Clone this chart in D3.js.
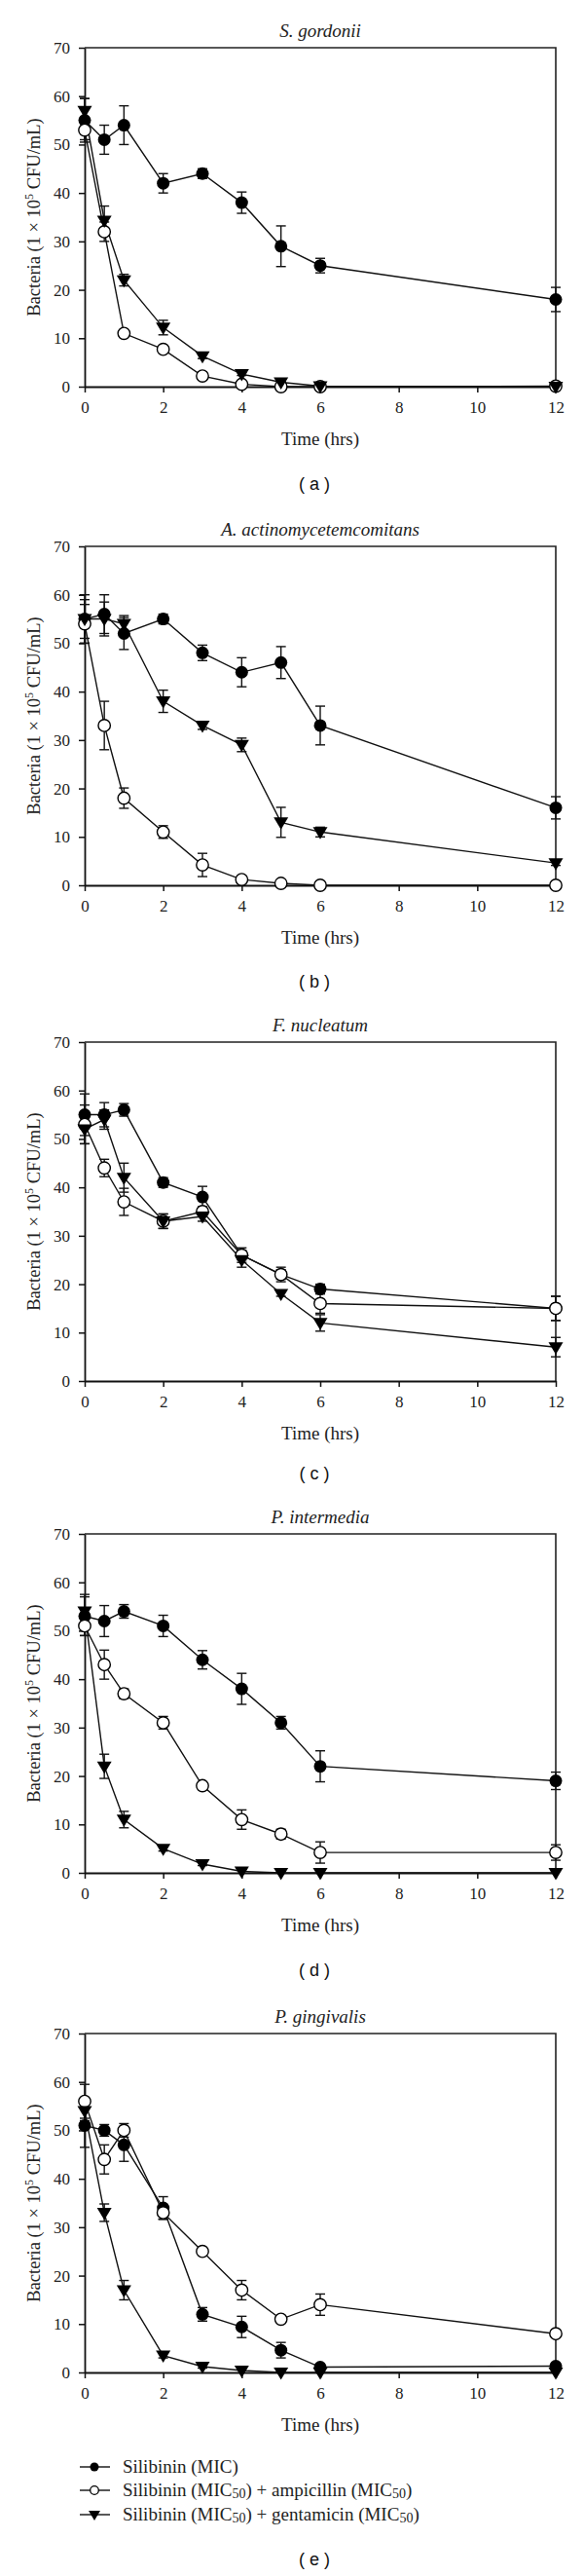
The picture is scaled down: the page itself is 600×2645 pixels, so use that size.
<!DOCTYPE html>
<html>
<head>
<meta charset="utf-8">
<script src="https://cdn.jsdelivr.net/npm/d3@7"></script>
<style>
  html, body { margin: 0; padding: 0; background: #fff; }
  svg { display: block; }
</style>
</head>
<body>
<div id="chart"></div>
<script>
// ---------------- DATA ----------------
const times = [0, 0.5, 1, 2, 3, 4, 5, 6, 12];
const panelTitles = ["S. gordonii", "A. actinomycetemcomitans", "F. nucleatum", "P. intermedia", "P. gingivalis"];
const panelLetters = ["a", "b", "c", "d", "e"];
const xTicks = [0, 2, 4, 6, 8, 10, 12];
const yTicks = [0, 10, 20, 30, 40, 50, 60, 70];

// Silibinin (MIC) — filled circles
const micValues = [
  [55, 51, 54, 42, 44, 38, 29, 25, 18],
  [55, 56, 52, 55, 48, 44, 46, 33, 16],
  [55, 55, 56, 41, 38, 26, 22, 19, 15],
  [53, 52, 54, 51, 44, 38, 31, 22, 19],
  [51, 50, 47, 34, 12, 9.4, 4.6, 1.1, 1.3]
];
const micErrors = [
  [4.5, 3, 4, 2, 1, 2.2, 4.2, 1.5, 2.5],
  [5, 4, 3.3, 1, 1.6, 3, 3.3, 4, 2.3],
  [4.3, 2.5, 1.3, 1, 2.2, 1, 1, 1, 2.5],
  [4, 3.2, 1.4, 2.2, 1.9, 3.2, 1.3, 3.2, 1.8],
  [4.5, 1.2, 3.4, 2.3, 1.4, 2.2, 1.6, 0.5, 0.5]
];
// Silibinin (MIC50) + ampicillin (MIC50) — open circles
const ampValues = [
  [53, 32, 11, 7.7, 2.2, 0.5, 0, 0, 0.1],
  [54, 33, 18, 11, 4.2, 1.2, 0.4, 0, 0],
  [53, 44, 37, 33, 35, 26, 22, 16, 15],
  [51, 43, 37, 31, 18, 11, 8, 4.2, 4.2],
  [56, 44, 50, 33, 25, 17, 11, 14, 8]
];
const ampErrors = [
  [2, 2, 0.5, 0.5, 0.3, 0.2, 0, 0, 0],
  [4, 5, 2.1, 1.3, 2.4, 0.5, 0.2, 0, 0],
  [4, 1.8, 2.8, 1.5, 1, 1.5, 1.5, 2, 2.5],
  [2, 3, 1, 1.3, 0.5, 2, 1, 2.2, 1.6],
  [3.5, 3, 1.4, 1.4, 0.5, 2, 0.5, 2.2, 0.5]
];
// Silibinin (MIC50) + gentamicin (MIC50) — filled down-triangles
const gentValues = [
  [57, 34.3, 22, 12.2, 6.3, 2.6, 0.9, 0.1, 0],
  [55, 55, 54, 38, 33, 29, 13, 11, 4.6],
  [52, 54, 42, 33, 34, 25, 18, 12, 7],
  [54, 22, 11, 5, 1.8, 0.3, 0, 0, 0],
  [54, 33, 17, 3.5, 1.2, 0.4, 0, 0, 0]
];
const gentErrors = [
  [2.5, 3, 1.2, 1.5, 0.5, 0.3, 0.2, 0, 0],
  [4, 3.5, 1.7, 2.3, 0.8, 1.4, 3.1, 1, 0.5],
  [3, 2, 3, 1.5, 1, 1.5, 0.5, 1.7, 2],
  [3.5, 2.5, 1.7, 0.5, 0.3, 0, 0, 0, 0],
  [2, 1.8, 2, 0.5, 0.3, 0, 0, 0, 0]
];

// ---------------- LAYOUT ----------------
const W = 600, H = 2645;
const left = 87, right = 571;
const panelTops = [49, 561, 1070, 1575, 2088];
const plotH = 348;
const letterY = [497, 1008, 1513, 2023, 2628];
const serif = "'Liberation Serif', 'Times New Roman', serif";
const sans = "'Liberation Sans', Arial, sans-serif";

const svg = d3.select("#chart").append("svg")
  .attr("width", W).attr("height", H)
  .attr("viewBox", `0 0 ${W} ${H}`);
svg.append("rect").attr("width", W).attr("height", H).attr("fill", "#fff");

const x = d3.scaleLinear().domain([0, 12]).range([left, right]);

const series = [
  { vals: micValues, errs: micErrors, type: "filled" },
  { vals: ampValues, errs: ampErrors, type: "open" },
  { vals: gentValues, errs: gentErrors, type: "tri" }
];

const triPath = (cx, cy) => {
  const w = 7.5, h = 12.5;
  return `M${cx - w},${cy - h * 0.4}L${cx + w},${cy - h * 0.4}L${cx},${cy + h * 0.6}Z`;
};

function drawMarker(g, type, cx, cy) {
  if (type === "filled") {
    g.append("circle").attr("cx", cx).attr("cy", cy).attr("r", 6.5).attr("fill", "#000");
  } else if (type === "open") {
    g.append("circle").attr("cx", cx).attr("cy", cy).attr("r", 6.2)
      .attr("fill", "#fff").attr("stroke", "#000").attr("stroke-width", 1.4);
  } else {
    g.append("path").attr("d", triPath(cx, cy)).attr("fill", "#000");
  }
}

panelTitles.forEach((title, p) => {
  const top = panelTops[p];
  const bottom = top + plotH;
  const y = d3.scaleLinear().domain([0, 70]).range([bottom, top]);
  const g = svg.append("g");

  // frame (top & right)
  g.append("path")
    .attr("d", `M${left},${top}H${right}V${bottom}`)
    .attr("fill", "none").attr("stroke", "#222").attr("stroke-width", 1.6);

  // axes
  const xAxis = d3.axisBottom(x).tickValues(xTicks).tickSize(6).tickPadding(9).tickSizeOuter(0);
  const yAxis = d3.axisLeft(y).tickValues(yTicks).tickSize(6).tickPadding(9).tickSizeOuter(0);
  const gx = g.append("g").attr("transform", `translate(0,${bottom})`).call(xAxis);
  const gy = g.append("g").attr("transform", `translate(${left},0)`).call(yAxis);
  [gx, gy].forEach(a => {
    a.select(".domain").attr("stroke", "#111").attr("stroke-width", 1.8);
    a.selectAll(".tick line").attr("stroke", "#111").attr("stroke-width", 1.5);
    a.selectAll(".tick text").attr("font-family", serif).attr("font-size", 17).attr("fill", "#222");
  });

  // title
  g.append("text").attr("x", (left + right) / 2).attr("y", top - 11)
    .attr("text-anchor", "middle").attr("font-family", serif).attr("font-style", "italic")
    .attr("font-size", 19).attr("fill", "#222").text(title);

  // x label
  g.append("text").attr("x", (left + right) / 2).attr("y", bottom + 60)
    .attr("text-anchor", "middle").attr("font-family", serif)
    .attr("font-size", 19).attr("fill", "#222").text("Time (hrs)");

  // y label
  const yl = g.append("text")
    .attr("transform", `translate(41,${(top + bottom) / 2}) rotate(-90)`)
    .attr("text-anchor", "middle").attr("font-family", serif)
    .attr("font-size", 18.5).attr("fill", "#222");
  yl.append("tspan").text("Bacteria (1 × 10");
  yl.append("tspan").attr("font-size", 12).attr("dy", -7).text("5");
  yl.append("tspan").attr("dy", 7).text(" CFU/mL)");

  // panel letter
  svg.append("text").attr("x", 323).attr("y", letterY[p]).attr("dy", "0.35em")
    .attr("text-anchor", "middle").attr("font-family", sans)
    .attr("font-size", 18).attr("fill", "#111").text(`( ${panelLetters[p]} )`);

  const line = d3.line().x(d => x(d[0])).y(d => y(d[1]));

  // lines
  series.forEach(s => {
    const pts = times.map((t, i) => [t, s.vals[p][i]]);
    g.append("path").attr("d", line(pts)).attr("fill", "none")
      .attr("stroke", "#111").attr("stroke-width", 1.4);
  });
  // error bars
  series.forEach(s => {
    times.forEach((t, i) => {
      const v = s.vals[p][i], e = s.errs[p][i];
      if (!e) return;
      const cx = x(t), y1 = y(v + e), y2 = y(Math.max(0, v - e));
      g.append("line").attr("x1", cx).attr("x2", cx).attr("y1", y1).attr("y2", y2)
        .attr("stroke", "#111").attr("stroke-width", 1.4);
      [y1, y2].forEach(yy => {
        g.append("line").attr("x1", cx - 5).attr("x2", cx + 5).attr("y1", yy).attr("y2", yy)
          .attr("stroke", "#111").attr("stroke-width", 1.4);
      });
    });
  });
  // markers
  series.forEach(s => {
    times.forEach((t, i) => drawMarker(g, s.type, x(t), y(s.vals[p][i])));
  });
});

// ---------------- LEGEND ----------------
const legendY = [2533, 2557, 2582];
const lg = svg.append("g");
const legendParts = [
  [["Silibinin (MIC)", false]],
  [["Silibinin (MIC", false], ["50", true], [") + ampicillin (MIC", false], ["50", true], [")", false]],
  [["Silibinin (MIC", false], ["50", true], [") + gentamicin (MIC", false], ["50", true], [")", false]]
];
series.forEach((s, i) => {
  const ly = legendY[i];
  lg.append("line").attr("x1", 82).attr("x2", 113).attr("y1", ly).attr("y2", ly)
    .attr("stroke", "#111").attr("stroke-width", 1.4);
  if (s.type === "filled") {
    lg.append("circle").attr("cx", 97).attr("cy", ly).attr("r", 4.5).attr("fill", "#000");
  } else if (s.type === "open") {
    lg.append("circle").attr("cx", 97).attr("cy", ly).attr("r", 4.3)
      .attr("fill", "#fff").attr("stroke", "#000").attr("stroke-width", 1.3);
  } else {
    lg.append("path").attr("d", `M${97 - 6},${ly - 4}L${97 + 6},${ly - 4}L${97},${ly + 6}Z`).attr("fill", "#000");
  }
  const t = lg.append("text").attr("x", 126).attr("y", ly + 6)
    .attr("font-family", serif).attr("font-size", 19).attr("fill", "#222");
  let sub = false;
  legendParts[i].forEach(([txt, isSub]) => {
    const ts = t.append("tspan").text(txt);
    if (isSub && !sub) { ts.attr("font-size", 14).attr("dy", 2); sub = true; }
    else if (!isSub && sub) { ts.attr("dy", -2); sub = false; }
    else if (isSub) { ts.attr("font-size", 14); }
  });
});
</script>
</body>
</html>
